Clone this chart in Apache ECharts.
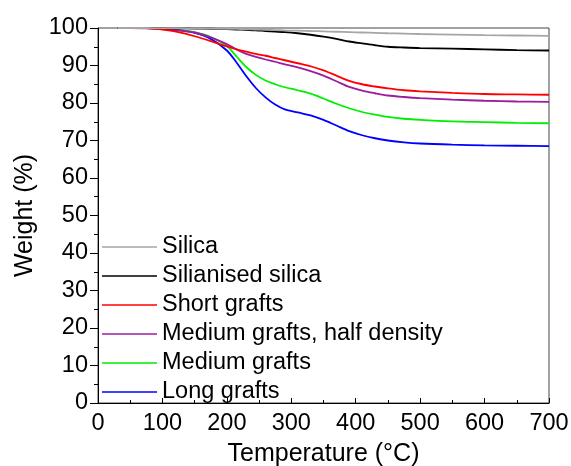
<!DOCTYPE html>
<html>
<head>
<meta charset="utf-8">
<script src="https://cdn.jsdelivr.net/npm/echarts@6/dist/echarts.min.js"></script>
<style>
  html, body { margin: 0; padding: 0; background: #fff; }
  #chart { width: 571px; height: 466px; }
</style>
</head>
<body>
<div id="chart"></div>
<script>
// TGA curves: residual weight (%) versus temperature (°C)
const temperatures = [30, 50, 75, 100, 125, 150, 175, 200, 215, 230, 245, 260, 275, 290,
  310, 330, 350, 370, 390, 410, 430, 450, 475, 500, 550, 600, 650, 700];

const silica = [100, 100, 100, 99.98, 99.95, 99.9, 99.85, 99.8, 99.75, 99.7, 99.6, 99.5, 99.45, 99.35,
  99.3, 99.2, 99.1, 99.0, 98.9, 98.8, 98.7, 98.6, 98.5, 98.4, 98.25, 98.1, 98.0, 97.9];
const silianisedSilica = [100, 100, 100, 99.95, 99.9, 99.85, 99.8, 99.7, 99.6, 99.5, 99.4, 99.2, 99.05, 98.9,
  98.6, 98.2, 97.7, 97.1, 96.4, 95.9, 95.4, 95.0, 94.8, 94.65, 94.5, 94.3, 94.1, 94.0];
const shortGrafts = [100, 100, 99.9, 99.6, 98.9, 97.8, 96.5, 95.1, 94.3, 93.7, 93.1, 92.6, 92.0, 91.4,
  90.6, 89.8, 88.7, 87.3, 85.9, 85.0, 84.4, 83.9, 83.4, 83.1, 82.7, 82.4, 82.3, 82.2];
const mediumHalfDensity = [100, 100, 99.95, 99.8, 99.4, 98.8, 97.5, 95.7, 94.3, 93.1, 92.3, 91.6, 91.0, 90.3,
  89.5, 88.5, 87.3, 85.8, 84.3, 83.3, 82.6, 82.0, 81.6, 81.3, 80.9, 80.6, 80.4, 80.3];
const mediumGrafts = [100, 100, 99.95, 99.8, 99.5, 98.9, 97.6, 95.2, 92.4, 89.6, 87.5, 86.0, 85.0, 84.2,
  83.4, 82.5, 81.2, 79.8, 78.6, 77.6, 76.9, 76.3, 75.8, 75.5, 75.1, 74.9, 74.7, 74.6];
const longGrafts = [100, 100, 99.95, 99.8, 99.4, 98.7, 97.1, 94.0, 90.8, 87.2, 84.0, 81.5, 79.6, 78.3,
  77.5, 76.7, 75.5, 74.0, 72.5, 71.4, 70.6, 70.0, 69.5, 69.2, 68.9, 68.7, 68.6, 68.5];

const seriesNames = ['Silica', 'Silianised silica', 'Short grafts',
  'Medium grafts, half density', 'Medium grafts', 'Long grafts'];
const seriesValues = [silica, silianisedSilica, shortGrafts, mediumHalfDensity, mediumGrafts, longGrafts];
const seriesColors = ['#a6a6a6', '#000000', '#ff0000', '#9c1c9c', '#00ee00', '#0000ff'];

const FONT = '"Liberation Sans", Arial, sans-serif';

const chart = echarts.init(document.getElementById('chart'), null, { renderer: 'canvas' });

chart.setOption({
  animation: false,
  backgroundColor: '#ffffff',
  grid: {
    left: 98, right: 22, top: 28, bottom: 63,
    outerBoundsMode: 'none',
    containLabel: false,
    show: true, borderColor: '#444', borderWidth: 1, backgroundColor: 'transparent'
  },
  legend: {
    orient: 'vertical',
    left: 102,
    top: 234,
    icon: 'rect',
    itemWidth: 55,
    itemHeight: 1.5,
    itemGap: 3,
    padding: 0,
    textStyle: { fontFamily: FONT, fontSize: 23.5, color: '#000', lineHeight: 26 },
    data: seriesNames
  },
  xAxis: {
    type: 'value',
    min: 0, max: 700, interval: 100,
    name: 'Temperature (°C)',
    nameLocation: 'middle',
    nameGap: 39,
    nameTextStyle: { fontFamily: FONT, fontSize: 25, color: '#000' },
    axisLine: { lineStyle: { color: '#000', width: 1 } },
    axisTick: { inside: true, length: 5, lineStyle: { color: '#000' } },
    minorTick: { show: true, splitNumber: 2, length: 3, lineStyle: { color: '#000' } },
    axisLabel: { fontFamily: FONT, fontSize: 23.5, color: '#000', margin: 9 },
    splitLine: { show: false }
  },
  yAxis: {
    type: 'value',
    min: 0, max: 100, interval: 10,
    name: 'Weight (%)',
    nameLocation: 'middle',
    nameGap: 60,
    nameTextStyle: { fontFamily: FONT, fontSize: 25, color: '#000' },
    axisLine: { show: true, lineStyle: { color: '#000', width: 1 } },
    axisTick: { show: true, inside: false, length: 8, lineStyle: { color: '#000' } },
    minorTick: { show: true, splitNumber: 2, length: 4, lineStyle: { color: '#000' } },
    axisLabel: { fontFamily: FONT, fontSize: 23.5, color: '#000', margin: 10 },
    splitLine: { show: false }
  },
  series: seriesNames.map((name, i) => ({
    name: name,
    type: 'line',
    smooth: 0.3,
    symbol: 'none',
    color: seriesColors[i],
    lineStyle: { width: 1.8, color: seriesColors[i] },
    z: 10 - i,
    data: temperatures.map((t, k) => [t, seriesValues[i][k]])
  }))
});
</script>
</body>
</html>
